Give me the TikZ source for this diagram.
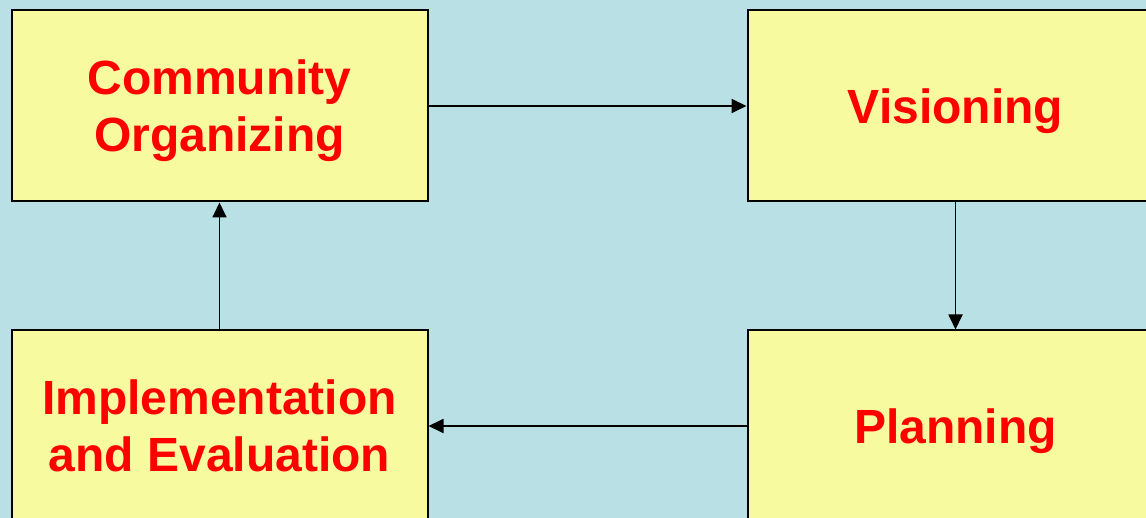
\documentclass[tikz,border=0pt]{standalone}
\usepackage{fontspec}
\setmainfont{Liberation Sans}
\usepackage{tikz}
\usetikzlibrary{shapes, arrows.meta, positioning}

\definecolor{bgblue}{RGB}{185,224,228}
\definecolor{boxyellow}{RGB}{248,250,160}

\begin{document}
\begin{tikzpicture}[x=1pt, y=1pt,
        box/.style={draw, rectangle, line width=2pt, fill=boxyellow, minimum width=416pt, minimum height=191pt, align=center, text=red, text depth=0pt, font=\bfseries\fontsize{48}{57}\selectfont},
        flow/.style={-{Triangle[length=15pt, width=14pt]}, line width=1.8pt}]

        \fill[bgblue] (0,0) rectangle (1146,-518);
        \useasboundingbox (0,0) rectangle (1146,-518);

        \node (organizing) [box] at (219.5,-106) {Community\\Organizing};
        \node (visioning) [box, right=318pt of organizing] {Visioning};
        \node (planning) [box, below=127pt of visioning] {Planning};
        \node (implementation) [box, below=127pt of organizing] {Implementation\\and Evaluation};

        \draw[flow] (organizing) -- (visioning);
        \draw[flow] (visioning) -- (planning);
        \draw[flow] (planning) -- (implementation);
        \draw[flow] (implementation) -- (organizing);
    \end{tikzpicture}
\end{document}
